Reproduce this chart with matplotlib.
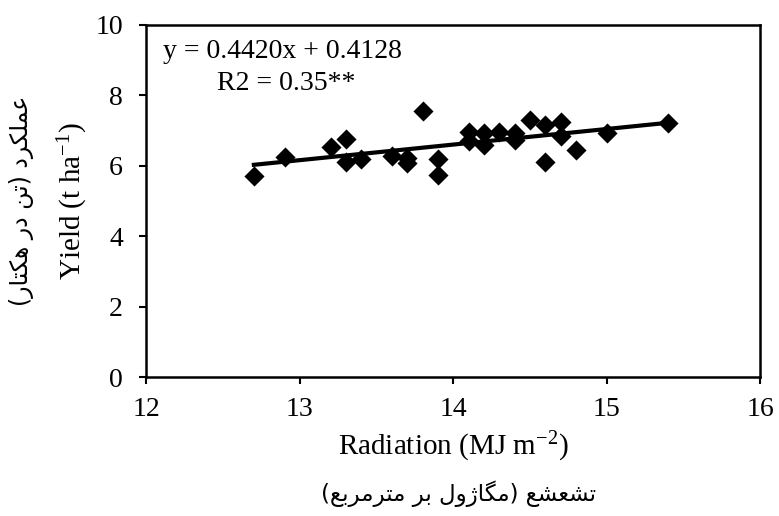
import matplotlib
matplotlib.use("Agg")
import matplotlib.pyplot as plt
import numpy as np

plt.rcParams['mathtext.fontset'] = 'custom'
plt.rcParams['mathtext.rm'] = 'Liberation Serif'
plt.rcParams['mathtext.it'] = 'Liberation Serif:italic'

# Data
radiation = [12.7, 12.9, 13.2, 13.3, 13.3, 13.4, 13.6, 13.7, 13.7, 13.8, 13.9, 13.9,
             14.1, 14.1, 14.2, 14.2, 14.3, 14.4, 14.4, 14.5, 14.6, 14.6, 14.7, 14.7,
             14.8, 15.0, 15.4]
yield_t = [5.70, 6.25, 6.52, 6.77, 6.12, 6.18, 6.29, 6.23, 6.09, 7.56, 6.18, 5.75,
           6.97, 6.69, 6.94, 6.60, 6.97, 6.94, 6.74, 7.31, 7.17, 6.12, 7.25, 6.83,
           6.46, 6.94, 7.22]
slope, intercept = 0.4420, 0.4128
x_ticks = [12, 13, 14, 15, 16]
y_ticks = [0, 2, 4, 6, 8, 10]

# Simple Persian shaper (presentation forms) + RTL reordering
FORMS = {
    '\u0639': ('\uFEC9', '\uFECA', '\uFECB', '\uFECC'),
    '\u0645': ('\uFEE1', '\uFEE2', '\uFEE3', '\uFEE4'),
    '\u0644': ('\uFEDD', '\uFEDE', '\uFEDF', '\uFEE0'),
    '\u06A9': ('\uFB8E', '\uFB8F', '\uFB90', '\uFB91'),
    '\u0631': ('\uFEAD', '\uFEAE', None, None),
    '\u062F': ('\uFEA9', '\uFEAA', None, None),
    '\u062A': ('\uFE95', '\uFE96', '\uFE97', '\uFE98'),
    '\u0646': ('\uFEE5', '\uFEE6', '\uFEE7', '\uFEE8'),
    '\u0647': ('\uFEE9', '\uFEEA', '\uFEEB', '\uFEEC'),
    '\u0627': ('\uFE8D', '\uFE8E', None, None),
    '\u0634': ('\uFEB5', '\uFEB6', '\uFEB7', '\uFEB8'),
    '\u06AF': ('\uFB92', '\uFB93', '\uFB94', '\uFB95'),
    '\u0698': ('\uFB8A', '\uFB8B', None, None),
    '\u0648': ('\uFEED', '\uFEEE', None, None),
    '\u0628': ('\uFE8F', '\uFE90', '\uFE91', '\uFE92'),
}


def shape_rtl(s):
    out = []
    n = len(s)
    for i, ch in enumerate(s):
        if ch not in FORMS:
            out.append(ch)
            continue
        f = FORMS[ch]
        prev = s[i - 1] if i > 0 else None
        nxt = s[i + 1] if i < n - 1 else None
        join_prev = prev in FORMS and FORMS[prev][2] is not None
        join_next = nxt in FORMS and f[2] is not None
        if join_prev and join_next:
            out.append(f[3])
        elif join_prev:
            out.append(f[1])
        elif join_next:
            out.append(f[2])
        else:
            out.append(f[0])
    vis = ''.join(reversed(out))
    mirror = {'(': ')', ')': '('}
    return ''.join(mirror.get(c, c) for c in vis)


fa_x = shape_rtl('تشعشع (مگاژول بر مترمربع)')
fa_y = shape_rtl('عملکرد (تن در هکتار)')

serif = ['Liberation Serif', 'DejaVu Serif']

fig = plt.figure(figsize=(7.79, 5.16), dpi=100)
ax = fig.add_axes([0.188, 0.269, 0.788, 0.683])

ax.scatter(radiation, yield_t, marker='D', s=105, color='black', zorder=3, linewidths=0)
xl = np.array([min(radiation), max(radiation)])
ax.plot(xl, slope * xl + intercept, color='black', lw=3, zorder=2)

ax.set_xlim(12, 16)
ax.set_ylim(0, 10)
ax.set_xticks(x_ticks)
ax.set_yticks(y_ticks)
ax.set_xticklabels([str(t) for t in x_ticks], family=serif, fontsize=20)
ax.set_yticklabels([str(t) for t in y_ticks], family=serif, fontsize=20)
ax.tick_params(direction='out', length=5, width=1.5)
ax.tick_params(axis='x', pad=9)
ax.tick_params(axis='y', pad=12)
for sp in ax.spines.values():
    sp.set_linewidth(1.8)

ax.set_xlabel('Radiation (MJ m$^{-2}$)', family=serif, fontsize=21, labelpad=6)
ax.set_ylabel('Yield (t ha$^{-1}$)', family=serif, fontsize=21, labelpad=4)

fig.text(0.589, 0.018, fa_x, family=['DejaVu Sans'], fontsize=16.5, ha='center', va='bottom')
fig.text(0.012, 0.61, fa_y, family=['DejaVu Sans'], fontsize=17, ha='left', va='center',
         rotation=90)

ax.text(0.027, 0.96, 'y = 0.4420x + 0.4128', transform=ax.transAxes, family=serif,
        fontsize=20, ha='left', va='top')
ax.text(0.115, 0.87, 'R2 = 0.35**', transform=ax.transAxes, family=serif,
        fontsize=20, ha='left', va='top')

fig.savefig('out.png', dpi=100)
